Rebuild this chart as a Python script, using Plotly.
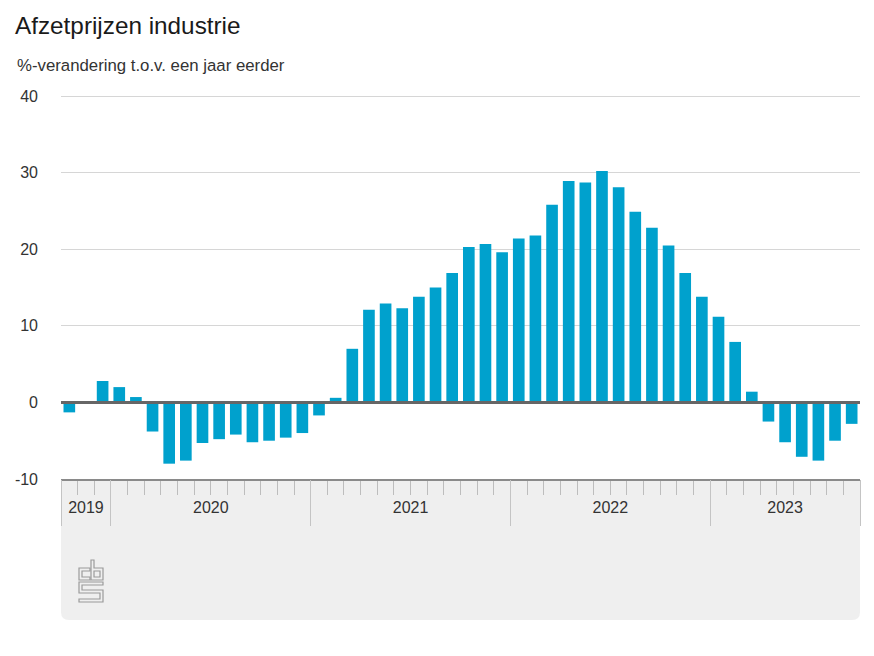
import plotly.graph_objects as go

# ---- data ----
months = [
    "2019-10", "2019-11", "2019-12",
    "2020-01", "2020-02", "2020-03", "2020-04", "2020-05", "2020-06",
    "2020-07", "2020-08", "2020-09", "2020-10", "2020-11", "2020-12",
    "2021-01", "2021-02", "2021-03", "2021-04", "2021-05", "2021-06",
    "2021-07", "2021-08", "2021-09", "2021-10", "2021-11", "2021-12",
    "2022-01", "2022-02", "2022-03", "2022-04", "2022-05", "2022-06",
    "2022-07", "2022-08", "2022-09", "2022-10", "2022-11", "2022-12",
    "2023-01", "2023-02", "2023-03", "2023-04", "2023-05", "2023-06",
    "2023-07", "2023-08", "2023-09",
]
values = [
    -1.3, 0.0, 2.8,
    2.0, 0.7, -3.8, -8.0, -7.6, -5.3,
    -4.8, -4.2, -5.2, -5.0, -4.6, -4.0,
    -1.7, 0.6, 7.0, 12.1, 12.9, 12.3,
    13.8, 15.0, 16.9, 20.3, 20.7, 19.6,
    21.4, 21.8, 25.8, 28.9, 28.7, 30.2,
    28.1, 24.9, 22.8, 20.5, 16.9, 13.8,
    11.2, 7.9, 1.4, -2.5, -5.2, -7.1,
    -7.6, -5.0, -2.8,
]
years = ["2019", "2020", "2021", "2022", "2023"]
y_ticks = [-10, 0, 10, 20, 30, 40]
y_ticktext = ["-10", "0", "10", "20", "30", "40"]

title = "Afzetprijzen industrie"
subtitle = "%-verandering t.o.v. een jaar eerder"

# ---- derived positions ----
xs = list(range(len(months)))
n = len(months)
month_year = [m[:4] for m in months]
year_bounds = [-0.5]
year_centers = []
for yr in years:
    idx = [i for i, y in enumerate(month_year) if y == yr]
    year_centers.append((idx[0] + idx[-1]) / 2)
    year_bounds.append(idx[-1] + 0.5)
minor_bounds = [i + 0.5 for i in range(n - 1) if (i + 0.5) not in year_bounds]

W, H = 874, 656
L, R, T, B = 61, 14, 93, 177
PW, PH = W - L - R, H - T - B

def px(x):
    return (x - L) / PW

def py(y):
    return (H - B - y) / PH

BAR = "#00a1cd"
FAM = "Liberation Sans, Arial, sans-serif"

fig = go.Figure()
fig.add_trace(go.Bar(x=xs, y=values, marker=dict(color=BAR, line=dict(width=0)),
                     hoverinfo="skip"))

rng = [-0.5, n - 0.5]
font = dict(family=FAM, size=16, color="#333333")

# gray box under the axis (rounded bottom corners)
x0, x1 = px(L), px(L + PW)
yt, yb = py(H - B), py(620)
r = 8
rx, ry = r / PW, r / PH
box_path = (f"M {x0},{yt} L {x1},{yt} L {x1},{yb + ry} Q {x1},{yb} {x1 - rx},{yb} "
            f"L {x0 + rx},{yb} Q {x0},{yb} {x0},{yb + ry} Z")
shapes = [dict(type="path", xref="paper", yref="paper", path=box_path,
               fillcolor="#efefef", line=dict(width=0), layer="below")]

# zero line above the bars
shapes.append(dict(type="line", xref="paper", yref="y", x0=0, x1=1, y0=0, y1=0,
                   line=dict(color="#666666", width=3), layer="above"))

# CBS logo (outline)
def P(pts):
    return "M " + " L ".join(f"{px(a)},{py(b)}" for a, b in pts) + " Z"

logo_paths = [
    P([(90, 568), (79, 568), (79, 580), (90, 580), (90, 577), (82, 577), (82, 571), (90, 571)]),
    P([(91, 560), (94, 560), (94, 568), (103, 568), (103, 580), (91, 580)]),
    P([(94, 571), (100, 571), (100, 577), (94, 577)]),
    P([(79, 582), (103, 582), (103, 585), (82, 585), (82, 590), (103, 590), (103, 602),
       (79, 602), (79, 599), (100, 599), (100, 593), (79, 593)]),
]
for p in logo_paths:
    shapes.append(dict(type="path", xref="paper", yref="paper", path=p,
                       line=dict(color="#9a9a9a", width=1.2), fillcolor="rgba(0,0,0,0)"))

fig.update_layout(
    width=W, height=H,
    margin=dict(l=L, r=R, t=T, b=B),
    paper_bgcolor="white", plot_bgcolor="white",
    showlegend=False,
    bargap=0.3,
    font=font,
    title=dict(text=title, xref="container", yref="container", x=15 / W, y=1 - 25 / H,
               xanchor="left", yanchor="middle",
               font=dict(family=FAM, size=24.3, color="#1a1a1a")),
    annotations=[dict(text=subtitle, xref="paper", yref="paper", x=px(15), y=py(66),
                      xanchor="left", yanchor="middle", showarrow=False,
                      font=dict(family=FAM, size=16.8, color="#333333"))],
    shapes=shapes,
    xaxis=dict(range=rng, tickvals=minor_bounds, ticks="outside", ticklen=14, tickwidth=1,
               tickcolor="#bdbdbd", showticklabels=False, showgrid=False, zeroline=False,
               showline=True, linecolor="#8a8a8a", linewidth=2, fixedrange=True),
    xaxis2=dict(range=rng, overlaying="x", anchor="y", tickvals=year_bounds, ticks="outside",
                ticklen=46, tickwidth=1, tickcolor="#c4c4c4", showticklabels=False,
                showgrid=False, zeroline=False, showline=False),
    xaxis3=dict(range=rng, overlaying="x", anchor="y", tickvals=year_centers, ticktext=years,
                ticks="", showgrid=False, zeroline=False, showline=False,
                ticklabelstandoff=17, tickfont=font),
    yaxis=dict(range=[-10, 40.4], tickvals=y_ticks, ticktext=y_ticktext, showgrid=True,
               gridcolor="#d6d6d6", gridwidth=1, zeroline=False,
               ticks="", ticklabelstandoff=22, tickfont=font, showline=False, fixedrange=True),
)

# dummy invisible traces to activate overlay axes
fig.add_trace(go.Scatter(x=[None], y=[None], xaxis="x2", showlegend=False, hoverinfo="skip"))
fig.add_trace(go.Scatter(x=[None], y=[None], xaxis="x3", showlegend=False, hoverinfo="skip"))

fig.write_html("out.html", config={"displayModeBar": False},
               post_script="document.body.style.margin='0';")
